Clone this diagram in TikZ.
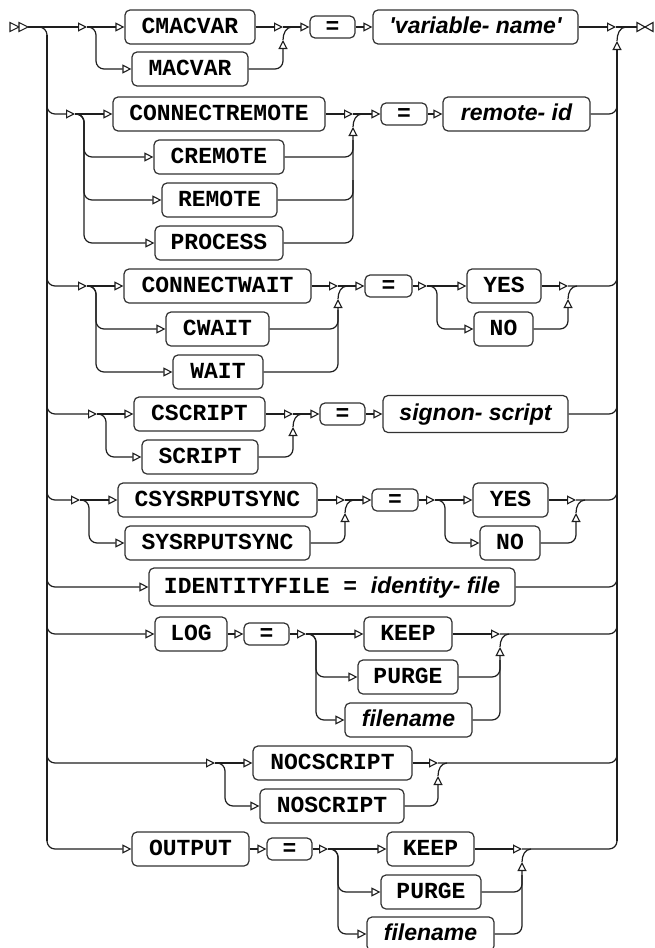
\documentclass[tikz,border=0pt]{standalone}
\usepackage{fontspec}
\usetikzlibrary{arrows.meta}
\newfontfamily\kwfam{Liberation Mono}[Ligatures=TeXOff]
\newfontfamily\itfam{Liberation Sans}[Ligatures=TeXOff]
\newcommand\kwf{\kwfam\bfseries\fontsize{23pt}{27pt}\selectfont}
\newcommand\itf{\itfam\bfseries\itshape\fontsize{23pt}{27pt}\selectfont}
\definecolor{lc}{RGB}{30,30,30}
\definecolor{bc}{RGB}{50,50,50}
\tikzset{
 ln/.style={draw=lc,line width=1.2pt},
 trk/.style={draw=lc,line width=2pt},
 ar/.style={-{Triangle[open,length=9pt,width=9pt,line width=1.1pt]}},
 kbox/.style={draw=bc,line width=1.2pt,rounded corners=5pt,fill=white,font=\kwf,minimum height=34pt,inner sep=0pt,text height=13pt,text depth=0pt},
 ibox/.style={kbox,font=\itf},
 eqbox/.style={kbox,minimum height=22pt},
 rc/.style={rounded corners=8pt},
 tri/.style={draw=lc,line width=1.1pt,fill=white}
}
\begin{document}
\begin{tikzpicture}[x=1pt,y=-1pt]
\useasboundingbox (0,0) rectangle (654,948);
% ---------- boxes ----------
\node[kbox,minimum width=130pt] (cmacvar) at (190,27) {CMACVAR};
\node[kbox,minimum width=116pt] (macvar) at (190,69) {MACVAR};
\node[eqbox,minimum width=45pt] (eq1) at (332.5,27) {=};
\node[ibox,minimum width=205pt] (varname) at (475.5,27) {'variable- name'};

\node[kbox,minimum width=212pt] (connectremote) at (219,114) {CONNECTREMOTE};
\node[kbox,minimum width=130pt] (cremote) at (219,157) {CREMOTE};
\node[kbox,minimum width=115pt] (remote) at (219.5,200) {REMOTE};
\node[kbox,minimum width=128pt] (process) at (219,243) {PROCESS};
\node[eqbox,minimum width=46pt] (eq2) at (404,114) {=};
\node[ibox,minimum width=147pt] (remoteid) at (516.5,114) {remote- id};

\node[kbox,minimum width=187pt] (connectwait) at (217.5,286) {CONNECTWAIT};
\node[kbox,minimum width=103pt] (cwait) at (217.5,329) {CWAIT};
\node[kbox,minimum width=90pt] (wait) at (218,372) {WAIT};
\node[eqbox,minimum width=47pt] (eq3) at (388.5,286) {=};
\node[kbox,minimum width=74pt] (yes3) at (504,286) {YES};
\node[kbox,minimum width=59pt] (no3) at (503.5,329) {NO};

\node[kbox,minimum width=131pt] (cscript) at (199.5,414) {CSCRIPT};
\node[kbox,minimum width=116pt] (script) at (200,457) {SCRIPT};
\node[eqbox,minimum width=45pt] (eq4) at (342.5,414) {=};
\node[ibox,minimum width=185pt,minimum height=37pt] (signon) at (475.5,414) {signon- script};

\node[kbox,minimum width=199pt] (csys) at (217.5,500) {CSYSRPUTSYNC};
\node[kbox,minimum width=185pt] (sys) at (217.5,543) {SYSRPUTSYNC};
\node[eqbox,minimum width=46pt] (eq5) at (395,500) {=};
\node[kbox,minimum width=75pt] (yes5) at (510.5,500) {YES};
\node[kbox,minimum width=60pt] (no5) at (510,543) {NO};

\node[kbox,minimum width=366pt,minimum height=38pt] (idf) at (332,587) {IDENTITYFILE = {\itf identity- file}};

\node[kbox,minimum width=72pt] (log) at (191,634) {LOG};
\node[eqbox,minimum width=45pt] (eq7) at (266.5,634) {=};
\node[kbox,minimum width=88pt] (keep7) at (408,634) {KEEP};
\node[kbox,minimum width=100pt] (purge7) at (408,677) {PURGE};
\node[ibox,minimum width=127pt] (file7) at (408.5,720) {filename};

\node[kbox,minimum width=159pt] (nocs) at (332.5,763) {NOCSCRIPT};
\node[kbox,minimum width=144pt] (nos) at (332,806) {NOSCRIPT};

\node[kbox,minimum width=117pt] (output) at (190.5,849) {OUTPUT};
\node[eqbox,minimum width=45pt] (eq9) at (289.5,849) {=};
\node[kbox,minimum width=87pt] (keep9) at (430.5,849) {KEEP};
\node[kbox,minimum width=100pt] (purge9) at (431,892) {PURGE};
\node[ibox,minimum width=127pt] (file9) at (430.5,934) {filename};

% ---------- junction coordinates ----------
\coordinate (st) at (28,27);
\coordinate (en) at (637,27);
\coordinate (s1) at (87,27);   \coordinate (m1) at (283,27);
\coordinate (s2) at (75,114);  \coordinate (m2) at (353,114);
\coordinate (s3) at (87,286);  \coordinate (m3) at (338,286);
\coordinate (s3b) at (427,286);\coordinate (m3b) at (568,286);
\coordinate (s4) at (97,414);  \coordinate (m4) at (293,414);
\coordinate (s5) at (80,500);  \coordinate (m5) at (345,500);
\coordinate (s5b) at (435,500);\coordinate (m5b) at (576,500);
\coordinate (s7) at (306,634); \coordinate (m7) at (500,634);
\coordinate (s8) at (215,763); \coordinate (m8) at (438,763);
\coordinate (s9) at (328,849); \coordinate (m9) at (522,849);

% ---------- start / end symbols ----------
\draw[tri] (10,22.5) -- (19,27) -- (10,31.5) -- cycle;
\draw[tri] (19,22.5) -- (28,27) -- (19,31.5) -- cycle;
\draw[tri] (637,22.5) -- (645,27) -- (637,31.5) -- cycle;
\draw[tri] (653,22.5) -- (645,27) -- (653,31.5) -- cycle;

% ---------- trunks ----------
\draw[ln,rc] (st) -- (47,27) -- (47,45);
\draw[trk] (47,35) -- (47,841);
\draw[trk,ar] (617,841) -- (617,41);
\draw[ln] (617,41) to[out=90,in=180] (626,27);
\draw[ln,ar] (varname.east) -- (616,27);
\draw[ln] (616,27) -- (en);

% ---------- row 1 ----------
\draw[ln,ar] (st) -- (s1);
\draw[ln,ar] (s1) -- (cmacvar.west);
\draw[ln,ar,rc] (s1) -- (96,27) -- (96,69) -- (macvar.west);
\draw[ln,ar] (cmacvar.east) -- (m1);
\draw[ln,ar,rc] (macvar.east) -- (283,69) -- (283,40);
\draw[ln] (283,40) to[out=90,in=180] (292,27);
\draw[ln,ar] (m1) -- (eq1.west);
\draw[ln,ar] (eq1.east) -- (varname.west);

% ---------- row 2 ----------
\draw[ln,ar,rc] (47,94) -- (47,114) -- (s2);
\draw[ln,ar] (s2) -- (connectremote.west);
\draw[ln,ar,rc] (s2) -- (84,114) -- (84,157) -- (cremote.west);
\draw[ln,ar,rc] (s2) -- (84,114) -- (84,200) -- (remote.west);
\draw[ln,ar,rc] (s2) -- (84,114) -- (84,243) -- (process.west);
\draw[ln,ar] (connectremote.east) -- (m2);
\draw[ln,rc] (cremote.east) -- (353,157) -- (353,140);
\draw[ln,rc] (remote.east) -- (353,200) -- (353,180);
\draw[ln,ar,rc] (process.east) -- (353,243) -- (353,127);
\draw[ln] (353,127) to[out=90,in=180] (362,114);
\draw[ln,ar] (m2) -- (eq2.west);
\draw[ln,ar] (eq2.east) -- (remoteid.west);
\draw[ln,rc] (remoteid.east) -- (617,114) -- (617,94);

% ---------- row 3 ----------
\draw[ln,ar,rc] (47,266) -- (47,286) -- (s3);
\draw[ln,ar] (s3) -- (connectwait.west);
\draw[ln,ar,rc] (s3) -- (96,286) -- (96,329) -- (cwait.west);
\draw[ln,ar,rc] (s3) -- (96,286) -- (96,372) -- (wait.west);
\draw[ln,ar] (connectwait.east) -- (m3);
\draw[ln,rc] (cwait.east) -- (338,329) -- (338,310);
\draw[ln,ar,rc] (wait.east) -- (338,372) -- (338,299);
\draw[ln] (338,299) to[out=90,in=180] (347,286);
\draw[ln,ar] (m3) -- (eq3.west);
\draw[ln,ar] (eq3.east) -- (s3b);
\draw[ln,ar] (s3b) -- (yes3.west);
\draw[ln,ar,rc] (s3b) -- (437,286) -- (437,329) -- (no3.west);
\draw[ln,ar] (yes3.east) -- (m3b);
\draw[ln,ar,rc] (no3.east) -- (568,329) -- (568,299);
\draw[ln] (568,299) to[out=90,in=180] (577,286);
\draw[ln,rc] (m3b) -- (617,286) -- (617,266);

% ---------- row 4 ----------
\draw[ln,ar,rc] (47,394) -- (47,414) -- (s4);
\draw[ln,ar] (s4) -- (cscript.west);
\draw[ln,ar,rc] (s4) -- (106,414) -- (106,457) -- (script.west);
\draw[ln,ar] (cscript.east) -- (m4);
\draw[ln,ar,rc] (script.east) -- (293,457) -- (293,427);
\draw[ln] (293,427) to[out=90,in=180] (302,414);
\draw[ln,ar] (m4) -- (eq4.west);
\draw[ln,ar] (eq4.east) -- (signon.west);
\draw[ln,rc] (signon.east) -- (617,414) -- (617,394);

% ---------- row 5 ----------
\draw[ln,ar,rc] (47,480) -- (47,500) -- (s5);
\draw[ln,ar] (s5) -- (csys.west);
\draw[ln,ar,rc] (s5) -- (89,500) -- (89,543) -- (sys.west);
\draw[ln,ar] (csys.east) -- (m5);
\draw[ln,ar,rc] (sys.east) -- (345,543) -- (345,513);
\draw[ln] (345,513) to[out=90,in=180] (354,500);
\draw[ln,ar] (m5) -- (eq5.west);
\draw[ln,ar] (eq5.east) -- (s5b);
\draw[ln,ar] (s5b) -- (yes5.west);
\draw[ln,ar,rc] (s5b) -- (445,500) -- (445,543) -- (no5.west);
\draw[ln,ar] (yes5.east) -- (m5b);
\draw[ln,ar,rc] (no5.east) -- (576,543) -- (576,513);
\draw[ln] (576,513) to[out=90,in=180] (585,500);
\draw[ln,rc] (m5b) -- (617,500) -- (617,480);

% ---------- row 6 ----------
\draw[ln,ar,rc] (47,567) -- (47,587) -- (idf.west);
\draw[ln,rc] (idf.east) -- (617,587) -- (617,567);

% ---------- row 7 ----------
\draw[ln,ar,rc] (47,614) -- (47,634) -- (log.west);
\draw[ln,ar] (log.east) -- (eq7.west);
\draw[ln,ar] (eq7.east) -- (s7);
\draw[ln,ar] (s7) -- (keep7.west);
\draw[ln,ar,rc] (s7) -- (316,634) -- (316,677) -- (purge7.west);
\draw[ln,ar,rc] (s7) -- (316,634) -- (316,720) -- (file7.west);
\draw[ln,ar] (keep7.east) -- (m7);
\draw[ln,rc] (purge7.east) -- (500,677) -- (500,660);
\draw[ln,ar,rc] (file7.east) -- (500,720) -- (500,647);
\draw[ln] (500,647) to[out=90,in=180] (509,634);
\draw[ln,rc] (m7) -- (617,634) -- (617,614);

% ---------- row 8 ----------
\draw[ln,ar,rc] (47,743) -- (47,763) -- (s8);
\draw[ln,ar] (s8) -- (nocs.west);
\draw[ln,ar,rc] (s8) -- (225,763) -- (225,806) -- (nos.west);
\draw[ln,ar] (nocs.east) -- (m8);
\draw[ln,ar,rc] (nos.east) -- (438,806) -- (438,776);
\draw[ln] (438,776) to[out=90,in=180] (447,763);
\draw[ln,rc] (m8) -- (617,763) -- (617,743);

% ---------- row 9 ----------
\draw[ln,ar,rc] (47,829) -- (47,849) -- (output.west);
\draw[ln,ar] (output.east) -- (eq9.west);
\draw[ln,ar] (eq9.east) -- (s9);
\draw[ln,ar] (s9) -- (keep9.west);
\draw[ln,ar,rc] (s9) -- (338,849) -- (338,892) -- (purge9.west);
\draw[ln,ar,rc] (s9) -- (338,849) -- (338,934) -- (file9.west);
\draw[ln,ar] (keep9.east) -- (m9);
\draw[ln,rc] (purge9.east) -- (522,892) -- (522,875);
\draw[ln,ar,rc] (file9.east) -- (522,934) -- (522,862);
\draw[ln] (522,862) to[out=90,in=180] (531,849);
\draw[ln,rc] (m9) -- (617,849) -- (617,829);
\end{tikzpicture}
\end{document}
